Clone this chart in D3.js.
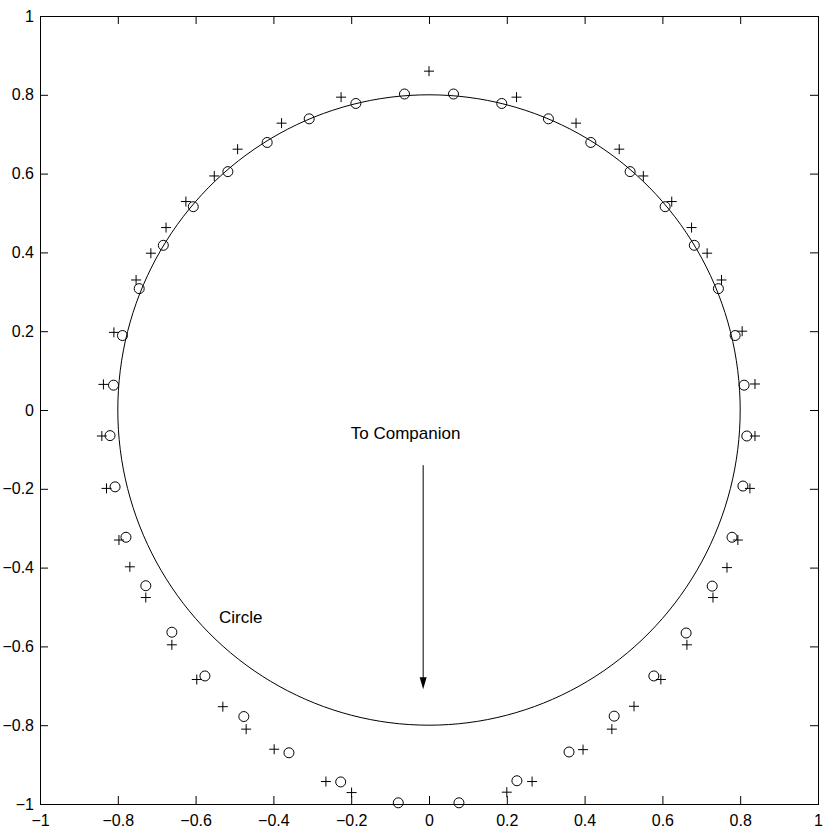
<!DOCTYPE html>
<html><head><meta charset="utf-8">
<script src="https://cdn.jsdelivr.net/npm/d3@7"></script>
<style>body{margin:0;background:#fff}svg{display:block}</style>
</head><body>
<svg id="chart" width="830" height="830"></svg>
<script>
// ---- data ----
const circleX = [-0.063,-0.188,-0.308,-0.416,-0.517,-0.606,-0.683,-0.745,-0.788,-0.811,-0.820,-0.807,-0.779,-0.728,-0.661,-0.576,-0.476,-0.360,-0.227,-0.079,
                  0.063, 0.187, 0.307, 0.416, 0.517, 0.607, 0.682, 0.744, 0.787, 0.810, 0.817, 0.807, 0.779, 0.728, 0.661, 0.578, 0.476, 0.360, 0.226, 0.077];
const circleY = [ 0.802, 0.778, 0.739, 0.679, 0.605, 0.516, 0.418, 0.308, 0.189, 0.063,-0.065,-0.195,-0.323,-0.446,-0.564,-0.675,-0.778,-0.870,-0.944,-0.997,
                  0.802, 0.778, 0.739, 0.679, 0.605, 0.516, 0.418, 0.308, 0.189, 0.063,-0.066,-0.193,-0.323,-0.447,-0.566,-0.675,-0.777,-0.868,-0.941,-0.997];
const plusX = [0.000,-0.226,-0.379,-0.492,-0.552,-0.625,-0.676,-0.715,-0.753,-0.810,-0.837,-0.841,-0.829,-0.797,-0.769,-0.728,-0.661,-0.597,-0.530,-0.470,-0.398,-0.265,-0.199,
                0.225, 0.378, 0.489, 0.551, 0.624, 0.675, 0.715, 0.752, 0.805, 0.838, 0.838, 0.825, 0.794, 0.766, 0.730, 0.663, 0.596, 0.527, 0.470, 0.396, 0.265, 0.200];
const plusY = [0.860, 0.794, 0.728, 0.662, 0.594, 0.529, 0.463, 0.398, 0.330, 0.197, 0.065,-0.066,-0.199,-0.330,-0.398,-0.476,-0.596,-0.684,-0.753,-0.810,-0.861,-0.943,-0.971,
               0.794, 0.728, 0.662, 0.594, 0.529, 0.463, 0.398, 0.330, 0.200, 0.066,-0.066,-0.199,-0.330,-0.400,-0.476,-0.596,-0.684,-0.752,-0.810,-0.862,-0.943,-0.970];
const ringRadius = 0.8;
const ringSegments = 200;
const xTickValues = [-1,-0.8,-0.6,-0.4,-0.2,0,0.2,0.4,0.6,0.8,1];
const yTickValues = [-1,-0.8,-0.6,-0.4,-0.2,0,0.2,0.4,0.6,0.8,1];
const arrowX = [-0.015, -0.015];
const arrowY = [-0.14, -0.709];
const labels = ["To Companion", "Circle"];

// ---- layout ----
const svg = d3.select("#chart");
const L = 40, R = 818, T = 16, B = 804;
const x = d3.scaleLinear().domain([-1, 1]).range([L, R]);
const y = d3.scaleLinear().domain([-1, 1]).range([B, T]);
const font = "'Liberation Sans', Arial, Helvetica, sans-serif";
const fmt = d => (d < 0 ? "\u2212" : "") + d3.format("")(Math.abs(d));

svg.append("rect").attr("width", 830).attr("height", 830).attr("fill", "#fff");

function styleAxis(g) {
  g.select(".domain").remove();
  g.selectAll(".tick line").attr("stroke", "#000");
  g.selectAll("text").attr("fill", "#000").style("font-family", font).style("font-size", "16px");
}
svg.append("g").attr("transform", `translate(0,${B})`)
  .call(d3.axisBottom(x).tickValues(xTickValues).tickFormat(fmt).tickSizeInner(-8).tickSizeOuter(0).tickPadding(11))
  .call(styleAxis);
svg.append("g").attr("transform", `translate(0,${T})`)
  .call(d3.axisTop(x).tickValues(xTickValues).tickFormat("").tickSizeInner(-8).tickSizeOuter(0))
  .call(styleAxis);
svg.append("g").attr("transform", `translate(${L},0)`)
  .call(d3.axisLeft(y).tickValues(yTickValues).tickFormat(fmt).tickSizeInner(-8).tickSizeOuter(0).tickPadding(6))
  .call(styleAxis);
svg.append("g").attr("transform", `translate(${R},0)`)
  .call(d3.axisRight(y).tickValues(yTickValues).tickFormat("").tickSizeInner(-8).tickSizeOuter(0))
  .call(styleAxis);

svg.append("rect").attr("x", L + 0.5).attr("y", T + 0.5).attr("width", R - L).attr("height", B - T)
  .attr("fill", "none").attr("stroke", "#000").attr("stroke-width", 1);

// ---- reference ring (radius 0.8) ----
const step = 2 * Math.PI / ringSegments;
const ringPts = d3.range(ringSegments + 1).map(i => {
  const a = i * step;
  return [ringRadius * Math.cos(a), ringRadius * Math.sin(a)];
});
svg.append("path")
  .attr("d", d3.line().x(d => x(d[0])).y(d => y(d[1]))(ringPts))
  .attr("fill", "none").attr("stroke", "#000").attr("stroke-width", 1);

// ---- circle markers ----
svg.append("g").selectAll("circle").data(circleX.map((v, i) => [v, circleY[i]])).join("circle")
  .attr("cx", d => x(d[0])).attr("cy", d => y(d[1])).attr("r", 5)
  .attr("fill", "none").attr("stroke", "#000").attr("stroke-width", 1);

// ---- plus markers ----
const pg = svg.append("g").attr("stroke", "#000").attr("stroke-width", 1);
plusX.forEach((v, i) => {
  const cx = x(v), cy = y(plusY[i]);
  pg.append("path").attr("d", `M${cx - 5},${cy}H${cx + 5}M${cx},${cy - 5}V${cy + 5}`);
});

// ---- arrow ----
const ax = x(arrowX[0]), ay0 = y(arrowY[0]), ay1 = y(arrowY[1]);
svg.append("line").attr("x1", ax).attr("x2", ax).attr("y1", ay0).attr("y2", ay1 - 10)
  .attr("stroke", "#000").attr("stroke-width", 1);
svg.append("path").attr("d", `M${ax - 3.5},${ay1 - 12}L${ax + 3.5},${ay1 - 12}L${ax},${ay1}Z`).attr("fill", "#000");

// ---- text ----
svg.append("text").attr("x", x(-0.201)).attr("y", y(-0.074)).text(labels[0])
  .style("font-family", font).style("font-size", "17px").attr("fill", "#000");
svg.append("text").attr("x", x(-0.540)).attr("y", y(-0.541)).text(labels[1])
  .style("font-family", font).style("font-size", "17px").attr("fill", "#000");
</script>
</body></html>
